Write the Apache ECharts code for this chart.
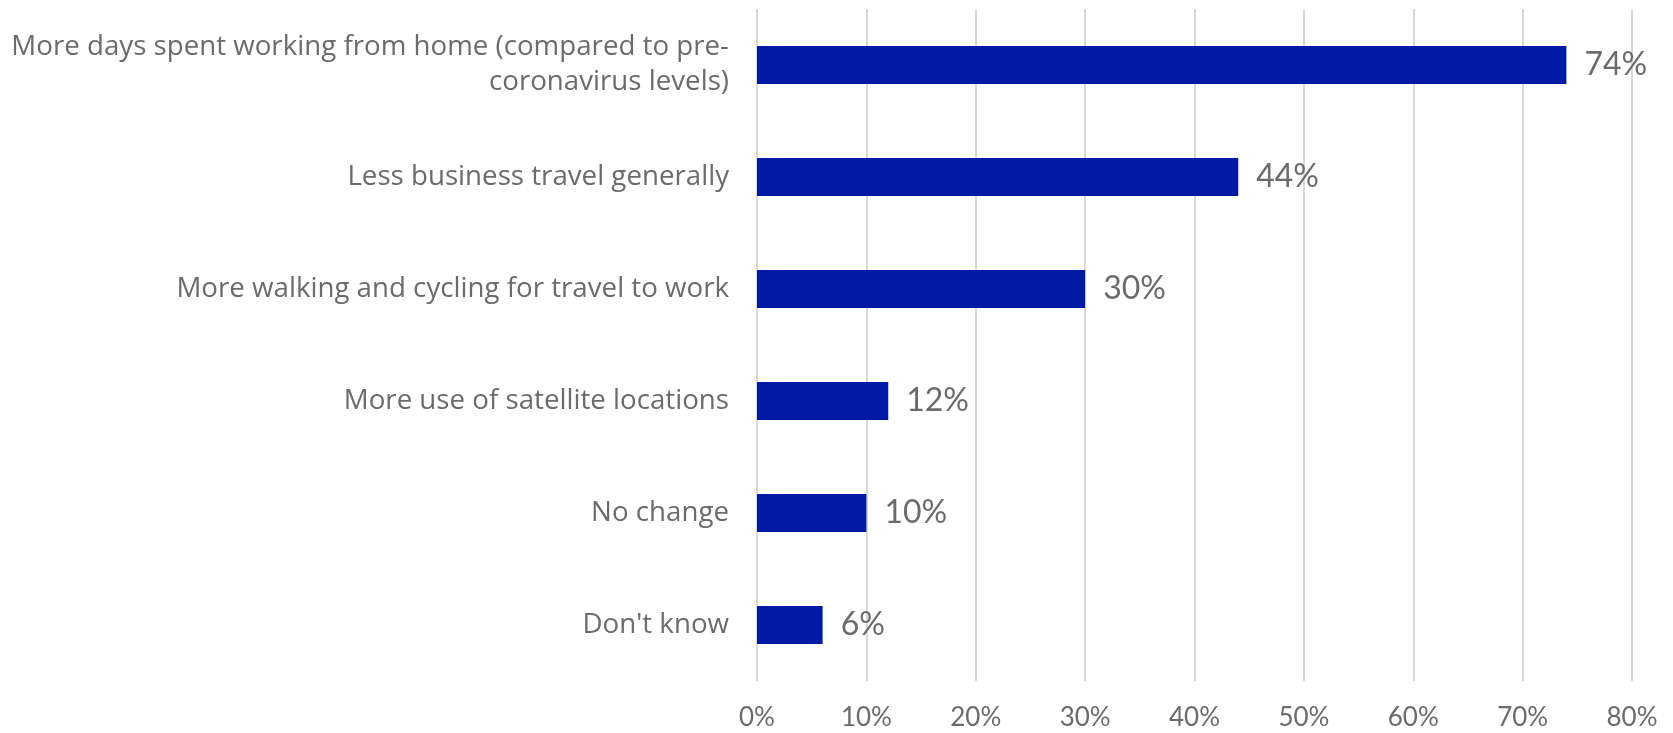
<!DOCTYPE html>
<html>
<head>
<meta charset="utf-8">
<script src="https://cdn.jsdelivr.net/npm/echarts@6/dist/echarts.min.js"></script>
<style>
  html, body { margin: 0; padding: 0; background: #ffffff; }
  #chart { width: 1673px; height: 733px; }
</style>
</head>
<body>
<div id="chart"></div>
<script>
// Expected changes to working patterns, share of respondents
const categories = [
  "More days spent working from home (compared to pre-\ncoronavirus levels)",
  "Less business travel generally",
  "More walking and cycling for travel to work",
  "More use of satellite locations",
  "No change",
  "Don't know"
];
const shares = [74, 44, 30, 12, 10, 6];
const xTicks = [0, 10, 20, 30, 40, 50, 60, 70, 80];

const FONT = "Lato, 'Noto Sans', sans-serif";
const CAT_FONT = "'Open Sans', Lato, sans-serif";
const GREY = "#6b6b6b";

const chart = echarts.init(document.getElementById("chart"), null, { renderer: "canvas" });
chart.setOption({
  animation: false,
  backgroundColor: "#ffffff",
  grid: { left: 757, right: 41, top: 9, bottom: 52, containLabel: false },
  xAxis: {
    type: "value",
    min: xTicks[0],
    max: xTicks[xTicks.length - 1],
    interval: xTicks[1] - xTicks[0],
    axisLine: { show: false },
    axisTick: { show: false },
    splitLine: { show: true, lineStyle: { color: "#d9d9d9", width: 2 } },
    axisLabel: {
      formatter: v => v + "%",
      color: GREY,
      fontFamily: FONT,
      fontSize: 26,
      margin: 24
    }
  },
  yAxis: {
    type: "category",
    data: categories,
    inverse: true,
    axisLine: { show: false },
    axisTick: { show: false },
    axisLabel: {
      color: GREY,
      fontFamily: CAT_FONT,
      fontSize: 27.7,
      lineHeight: 35,
      align: "right",
      margin: 28
    }
  },
  series: [{
    type: "bar",
    data: shares,
    barWidth: 38,
    itemStyle: { color: "#001aa8" },
    label: {
      show: true,
      position: "right",
      distance: 18,
      formatter: p => p.value + "%",
      color: GREY,
      fontFamily: FONT,
      fontSize: 32
    }
  }]
});
</script>
</body>
</html>
